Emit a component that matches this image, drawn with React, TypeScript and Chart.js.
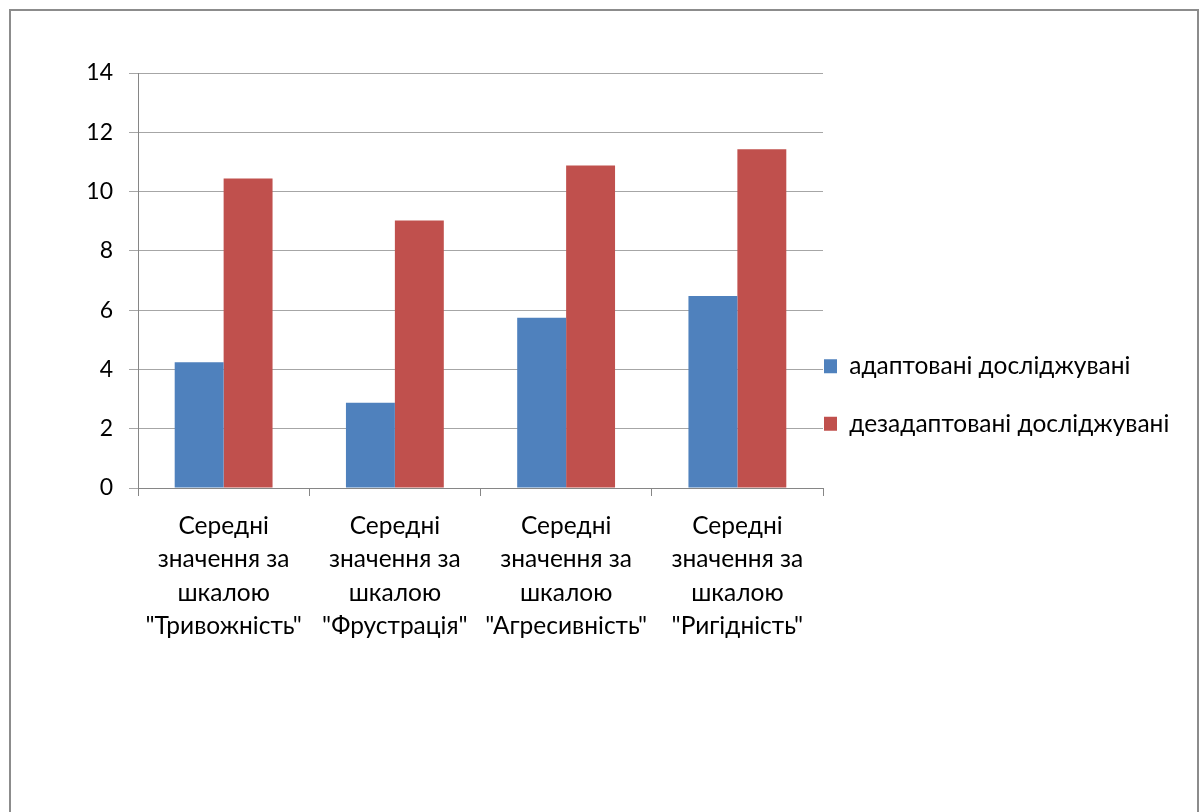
import React, { useEffect, useRef } from "react";
import { Chart, registerables } from "chart.js";

Chart.register(...registerables);

// Category labels, one array entry per text line
const categories: string[][] = [
  ["Середні", "значення за", "шкалою", '"Тривожність"'],
  ["Середні", "значення за", "шкалою", '"Фрустрація"'],
  ["Середні", "значення за", "шкалою", '"Агресивність"'],
  ["Середні", "значення за", "шкалою", '"Ригідність"'],
];

const seriesNames = ["адаптовані досліджувані", "дезадаптовані досліджувані"];
const adaptedValues = [4.24, 2.88, 5.74, 6.48];
const maladaptedValues = [10.44, 9.02, 10.88, 11.43];

const yMin = 0;
const yMax = 14;
const yStep = 2;

const FONT = "Lato, 'Open Sans', 'Noto Sans', sans-serif";

export default function App() {
  const canvasRef = useRef<HTMLCanvasElement | null>(null);

  useEffect(() => {
    const canvas = canvasRef.current;
    if (!canvas) return;

    // keeps the legend column at a fixed width so the plot ends where it should
    const legendWidthPlugin = {
      id: "legendWidth",
      afterInit(chart: any) {
        const legend = chart.legend;
        if (!legend) return;
        const origFit = legend.fit;
        legend.fit = function () {
          origFit.call(this);
          this.width = 378;
        };
      },
    };

    const chart = new Chart(canvas, {
      type: "bar",
      data: {
        labels: categories,
        datasets: [
          {
            label: seriesNames[0],
            data: adaptedValues,
            backgroundColor: "#4F81BD",
            borderWidth: 0,
          },
          {
            label: seriesNames[1],
            data: maladaptedValues,
            backgroundColor: "#C0504D",
            borderWidth: 0,
          },
        ],
      },
      plugins: [legendWidthPlugin],
      options: {
        responsive: false,
        animation: false,
        devicePixelRatio: 1,
        layout: { padding: { top: 73, left: 0, right: 0, bottom: 63 } },
        datasets: {
          bar: { categoryPercentage: 0.5714, barPercentage: 1 },
        },
        plugins: {
          title: { display: false },
          tooltip: { enabled: false },
          legend: {
            position: "right",
            align: "center",
            labels: {
              boxWidth: 13,
              boxHeight: 14,
              padding: 1,
              color: "#000",
              font: { family: FONT, size: 24.5, lineHeight: "28.25px" },
              // an empty second line gives each entry its taller row
              generateLabels: (chart: any) => {
                const items = Chart.defaults.plugins.legend.labels.generateLabels(chart);
                return items.map((it: any) => ({ ...it, text: [it.text, ""] }));
              },
            },
          },
        },
        scales: {
          x: {
            afterFit: (scale: any) => {
              scale.height = 261;
            },
            border: { display: true, color: "#868686", width: 1 },
            grid: {
              display: true,
              offset: true,
              drawOnChartArea: false,
              drawTicks: true,
              tickLength: 8,
              color: "#868686",
            },
            ticks: {
              color: "#000",
              padding: 13,
              maxRotation: 0,
              autoSkip: false,
              font: { family: FONT, size: 24.5, lineHeight: "33.5px" },
            },
          },
          y: {
            min: yMin,
            max: yMax,
            afterFit: (scale: any) => {
              scale.width = 138;
            },
            border: { display: true, color: "#868686", width: 1 },
            grid: {
              color: "#A6A6A6",
              drawTicks: true,
              tickLength: 9,
            },
            ticks: {
              stepSize: yStep,
              color: "#000",
              padding: 16,
              font: { family: FONT, size: 23 },
            },
          },
        },
      },
    });

    return () => {
      chart.destroy();
    };
  }, []);

  return (
    <div
      style={{
        position: "fixed",
        left: 0,
        top: 0,
        width: 1201,
        height: 812,
        background: "#fff",
        overflow: "hidden",
      }}
    >
      <div
        style={{
          position: "absolute",
          left: 9,
          top: 9,
          width: 1186,
          height: 900,
          border: "2px solid #8C8C8C",
        }}
      />
      <canvas
        ref={canvasRef}
        width={1201}
        height={812}
        style={{ position: "absolute", left: 0, top: 0, width: 1201, height: 812 }}
      />
    </div>
  );
}
